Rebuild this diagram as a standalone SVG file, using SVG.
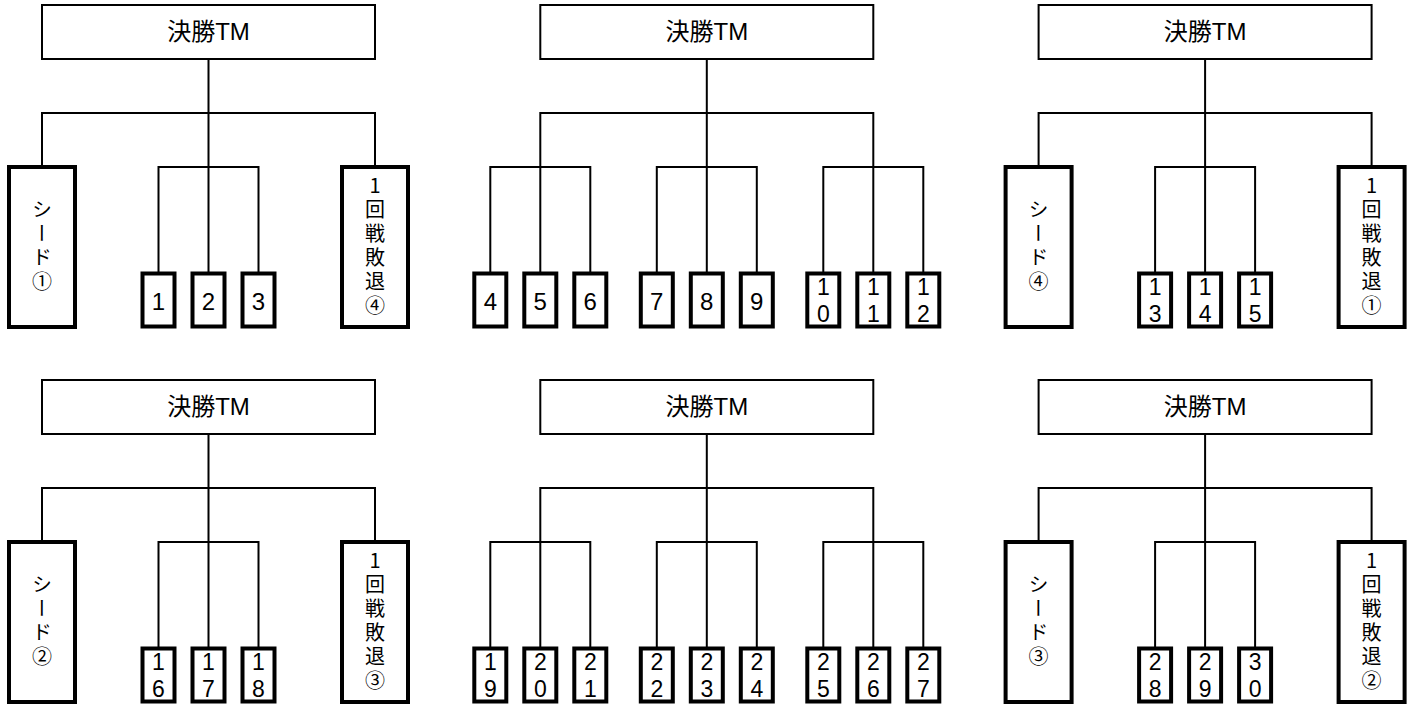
<svg xmlns="http://www.w3.org/2000/svg" width="1416" height="706" viewBox="0 0 1416 706">
<style>
.bg{fill:#fff}
.thin{fill:#fff;stroke:#000;stroke-width:2}
.thick{fill:#fff;stroke:#000;stroke-width:4}
.conn path{fill:none;stroke:#000;stroke-width:2}
.t{font-family:"Liberation Sans","Noto Sans CJK JP",sans-serif;fill:#000;text-anchor:middle}
.title{font-size:24px}
.num{font-size:24px}
.num2{font-size:23px}
.vert{font-family:"Noto Sans CJK JP","Liberation Sans",sans-serif;font-size:20px;writing-mode:vertical-rl;text-orientation:upright;letter-spacing:4px}
</style>
<rect class="bg" x="0" y="0" width="1416" height="706"/>

<!-- Top-left panel -->
<g id="panel-tl" transform="translate(0,0)">
  <g class="conn" id="conn-tl"><path d="M208.5 59V272M42 165V113H375V165M158.5 272V167H258.5V272"/></g>
  <g id="tl-final"><rect class="thin" x="42" y="5" width="333" height="54"/><text class="t title" x="208.5" y="40">決勝TM</text></g>
  <g id="tl-seed"><rect class="thick" x="9" y="167" width="66" height="160"/><text class="t vert" x="42" y="247">シード①</text></g>
  <g id="tl-b1"><rect class="thick" x="142.5" y="273.5" width="32" height="53"/><text class="t num" x="158.5" y="310">1</text></g>
  <g id="tl-b2"><rect class="thick" x="192.5" y="273.5" width="32" height="53"/><text class="t num" x="208.5" y="310">2</text></g>
  <g id="tl-b3"><rect class="thick" x="242.5" y="273.5" width="32" height="53"/><text class="t num" x="258.5" y="310">3</text></g>
  <g id="tl-loser"><rect class="thick" x="342" y="167" width="66" height="160"/><text class="t vert" x="375" y="247">1回戦敗退④</text></g>
</g>

<!-- Top-middle panel -->
<g id="panel-tm" transform="translate(498.3,0)">
  <g class="conn" id="conn-tm"><path d="M208.5 59V272M42 272V113H375V272M-8 272V167H92V272M158.5 272V167H258.5V272M325 272V167H425V272"/></g>
  <g id="tm-final"><rect class="thin" x="42" y="5" width="333" height="54"/><text class="t title" x="208.5" y="40">決勝TM</text></g>
  <g id="tm-b4"><rect class="thick" x="-24" y="273.5" width="32" height="53"/><text class="t num" x="-8" y="310">4</text></g>
  <g id="tm-b5"><rect class="thick" x="26" y="273.5" width="32" height="53"/><text class="t num" x="42" y="310">5</text></g>
  <g id="tm-b6"><rect class="thick" x="76" y="273.5" width="32" height="53"/><text class="t num" x="92" y="310">6</text></g>
  <g id="tm-b7"><rect class="thick" x="142.5" y="273.5" width="32" height="53"/><text class="t num" x="158.5" y="310">7</text></g>
  <g id="tm-b8"><rect class="thick" x="192.5" y="273.5" width="32" height="53"/><text class="t num" x="208.5" y="310">8</text></g>
  <g id="tm-b9"><rect class="thick" x="242.5" y="273.5" width="32" height="53"/><text class="t num" x="258.5" y="310">9</text></g>
  <g id="tm-b10"><rect class="thick" x="309" y="273.5" width="32" height="53"/><text class="t num2"><tspan x="325" y="295">1</tspan><tspan x="325" y="322">0</tspan></text></g>
  <g id="tm-b11"><rect class="thick" x="359" y="273.5" width="32" height="53"/><text class="t num2"><tspan x="375" y="295">1</tspan><tspan x="375" y="322">1</tspan></text></g>
  <g id="tm-b12"><rect class="thick" x="409" y="273.5" width="32" height="53"/><text class="t num2"><tspan x="425" y="295">1</tspan><tspan x="425" y="322">2</tspan></text></g>
</g>

<!-- Top-right panel -->
<g id="panel-tr" transform="translate(996.6,0)">
  <g class="conn" id="conn-tr"><path d="M208.5 59V272M42 165V113H375V165M158.5 272V167H258.5V272"/></g>
  <g id="tr-final"><rect class="thin" x="42" y="5" width="333" height="54"/><text class="t title" x="208.5" y="40">決勝TM</text></g>
  <g id="tr-seed"><rect class="thick" x="9" y="167" width="66" height="160"/><text class="t vert" x="42" y="247">シード④</text></g>
  <g id="tr-b13"><rect class="thick" x="142.5" y="273.5" width="32" height="53"/><text class="t num2"><tspan x="158.5" y="295">1</tspan><tspan x="158.5" y="322">3</tspan></text></g>
  <g id="tr-b14"><rect class="thick" x="192.5" y="273.5" width="32" height="53"/><text class="t num2"><tspan x="208.5" y="295">1</tspan><tspan x="208.5" y="322">4</tspan></text></g>
  <g id="tr-b15"><rect class="thick" x="242.5" y="273.5" width="32" height="53"/><text class="t num2"><tspan x="258.5" y="295">1</tspan><tspan x="258.5" y="322">5</tspan></text></g>
  <g id="tr-loser"><rect class="thick" x="342" y="167" width="66" height="160"/><text class="t vert" x="375" y="247">1回戦敗退①</text></g>
</g>

<!-- Bottom-left panel -->
<g id="panel-bl" transform="translate(0,375)">
  <g class="conn" id="conn-bl"><path d="M208.5 59V272M42 165V113H375V165M158.5 272V167H258.5V272"/></g>
  <g id="bl-final"><rect class="thin" x="42" y="5" width="333" height="54"/><text class="t title" x="208.5" y="40">決勝TM</text></g>
  <g id="bl-seed"><rect class="thick" x="9" y="167" width="66" height="160"/><text class="t vert" x="42" y="247">シード②</text></g>
  <g id="bl-b16"><rect class="thick" x="142.5" y="273.5" width="32" height="53"/><text class="t num2"><tspan x="158.5" y="295">1</tspan><tspan x="158.5" y="322">6</tspan></text></g>
  <g id="bl-b17"><rect class="thick" x="192.5" y="273.5" width="32" height="53"/><text class="t num2"><tspan x="208.5" y="295">1</tspan><tspan x="208.5" y="322">7</tspan></text></g>
  <g id="bl-b18"><rect class="thick" x="242.5" y="273.5" width="32" height="53"/><text class="t num2"><tspan x="258.5" y="295">1</tspan><tspan x="258.5" y="322">8</tspan></text></g>
  <g id="bl-loser"><rect class="thick" x="342" y="167" width="66" height="160"/><text class="t vert" x="375" y="247">1回戦敗退③</text></g>
</g>

<!-- Bottom-middle panel -->
<g id="panel-bm" transform="translate(498.3,375)">
  <g class="conn" id="conn-bm"><path d="M208.5 59V272M42 272V113H375V272M-8 272V167H92V272M158.5 272V167H258.5V272M325 272V167H425V272"/></g>
  <g id="bm-final"><rect class="thin" x="42" y="5" width="333" height="54"/><text class="t title" x="208.5" y="40">決勝TM</text></g>
  <g id="bm-b19"><rect class="thick" x="-24" y="273.5" width="32" height="53"/><text class="t num2"><tspan x="-8" y="295">1</tspan><tspan x="-8" y="322">9</tspan></text></g>
  <g id="bm-b20"><rect class="thick" x="26" y="273.5" width="32" height="53"/><text class="t num2"><tspan x="42" y="295">2</tspan><tspan x="42" y="322">0</tspan></text></g>
  <g id="bm-b21"><rect class="thick" x="76" y="273.5" width="32" height="53"/><text class="t num2"><tspan x="92" y="295">2</tspan><tspan x="92" y="322">1</tspan></text></g>
  <g id="bm-b22"><rect class="thick" x="142.5" y="273.5" width="32" height="53"/><text class="t num2"><tspan x="158.5" y="295">2</tspan><tspan x="158.5" y="322">2</tspan></text></g>
  <g id="bm-b23"><rect class="thick" x="192.5" y="273.5" width="32" height="53"/><text class="t num2"><tspan x="208.5" y="295">2</tspan><tspan x="208.5" y="322">3</tspan></text></g>
  <g id="bm-b24"><rect class="thick" x="242.5" y="273.5" width="32" height="53"/><text class="t num2"><tspan x="258.5" y="295">2</tspan><tspan x="258.5" y="322">4</tspan></text></g>
  <g id="bm-b25"><rect class="thick" x="309" y="273.5" width="32" height="53"/><text class="t num2"><tspan x="325" y="295">2</tspan><tspan x="325" y="322">5</tspan></text></g>
  <g id="bm-b26"><rect class="thick" x="359" y="273.5" width="32" height="53"/><text class="t num2"><tspan x="375" y="295">2</tspan><tspan x="375" y="322">6</tspan></text></g>
  <g id="bm-b27"><rect class="thick" x="409" y="273.5" width="32" height="53"/><text class="t num2"><tspan x="425" y="295">2</tspan><tspan x="425" y="322">7</tspan></text></g>
</g>

<!-- Bottom-right panel -->
<g id="panel-br" transform="translate(996.6,375)">
  <g class="conn" id="conn-br"><path d="M208.5 59V272M42 165V113H375V165M158.5 272V167H258.5V272"/></g>
  <g id="br-final"><rect class="thin" x="42" y="5" width="333" height="54"/><text class="t title" x="208.5" y="40">決勝TM</text></g>
  <g id="br-seed"><rect class="thick" x="9" y="167" width="66" height="160"/><text class="t vert" x="42" y="247">シード③</text></g>
  <g id="br-b28"><rect class="thick" x="142.5" y="273.5" width="32" height="53"/><text class="t num2"><tspan x="158.5" y="295">2</tspan><tspan x="158.5" y="322">8</tspan></text></g>
  <g id="br-b29"><rect class="thick" x="192.5" y="273.5" width="32" height="53"/><text class="t num2"><tspan x="208.5" y="295">2</tspan><tspan x="208.5" y="322">9</tspan></text></g>
  <g id="br-b30"><rect class="thick" x="242.5" y="273.5" width="32" height="53"/><text class="t num2"><tspan x="258.5" y="295">3</tspan><tspan x="258.5" y="322">0</tspan></text></g>
  <g id="br-loser"><rect class="thick" x="342" y="167" width="66" height="160"/><text class="t vert" x="375" y="247">1回戦敗退②</text></g>
</g>
</svg>
